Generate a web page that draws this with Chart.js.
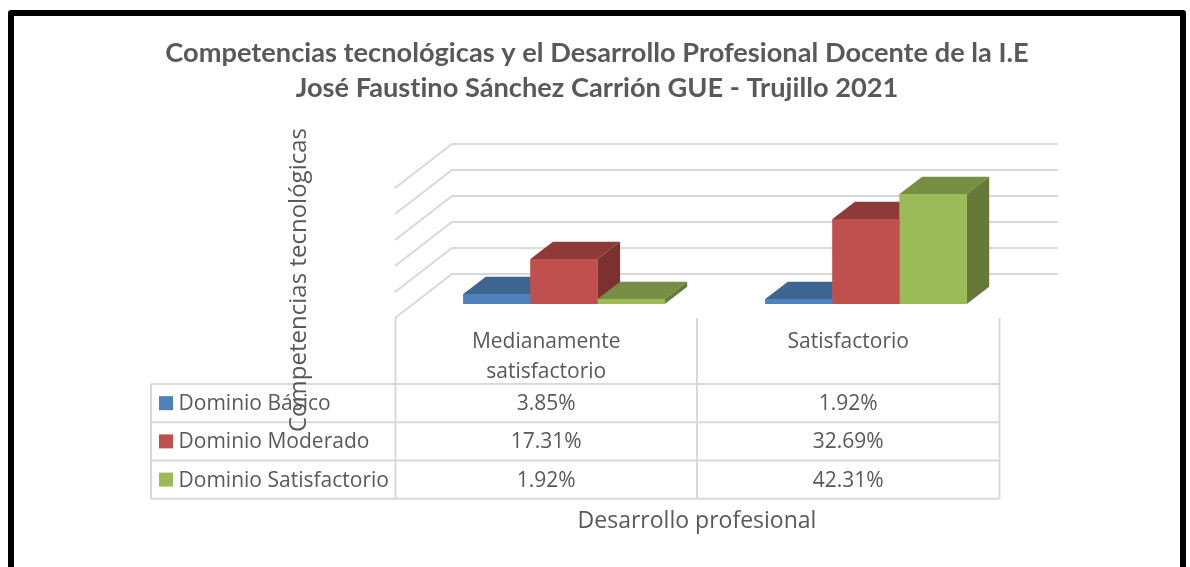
<!DOCTYPE html>
<html lang="es">
<head>
<meta charset="utf-8">
<title>Competencias tecnológicas</title>
<script src="https://cdn.jsdelivr.net/npm/chart.js@4"></script>
<style>
html,body{margin:0;padding:0;background:#fff;overflow:hidden;width:1190px;height:567px}
#frame{position:absolute;left:8px;top:10px;width:1166px;height:640px;border:6.5px solid #000;border-radius:3px}
#wrap{position:absolute;left:0;top:0;width:1190px;height:567px}
</style>
</head>
<body>
<div id="frame"></div>
<div id="wrap"><canvas id="c" width="1190" height="567"></canvas></div>
<script>
const titleLines = ['Competencias tecnológicas y el Desarrollo Profesional Docente de la I.E', 'José Faustino Sánchez Carrión GUE - Trujillo 2021'];
const categories = ['Medianamente satisfactorio', 'Satisfactorio'];
const categoryLines = [['Medianamente', 'satisfactorio'], ['Satisfactorio']];
const seriesNames = ['Dominio Básico', 'Dominio Moderado', 'Dominio Satisfactorio'];
const dominioBasico = [3.85, 1.92];
const dominioModerado = [17.31, 32.69];
const dominioSatisfactorio = [1.92, 42.31];
const frontColors = ['#4F81BD', '#C0504D', '#9BBB59'];
const topColors = ['#3D6591', '#8F3A38', '#778F45'];
const sideColors = ['#345780', '#7D312F', '#657A3A'];
const yAxisTitle = 'Competencias tecnológicas';
const xAxisTitle = 'Desarrollo profesional';

const GRID = '#D9D9D9', TEXT = '#595959', LABEL_FONT = '21px "Open Sans"';
const BAR_DX = 22.5, BAR_DY = 17.3;
const values = [dominioBasico, dominioModerado, dominioSatisfactorio];

function poly(ctx, pts, fill) {
  ctx.beginPath();
  pts.forEach((p, i) => i ? ctx.lineTo(p[0], p[1]) : ctx.moveTo(p[0], p[1]));
  ctx.closePath();
  ctx.fillStyle = fill;
  ctx.fill();
}
function seg(ctx, x1, y1, x2, y2) {
  ctx.beginPath(); ctx.moveTo(x1, y1); ctx.lineTo(x2, y2); ctx.stroke();
}

const scene3d = {
  id: 'scene3d',
  beforeDraw(chart) {
    chart.ctx.letterSpacing = '0.01px';
  },
  beforeDatasetsDraw(chart) {
    const { ctx, scales: { y } } = chart;
    ctx.save();
    ctx.strokeStyle = GRID;
    ctx.lineWidth = 2;
    y.ticks.forEach(t => {
      const py = y.getPixelForValue(t.value);
      ctx.beginPath();
      ctx.moveTo(395, py + 14);
      ctx.lineTo(452, py - 30);
      ctx.lineTo(1058, py - 30);
      ctx.stroke();
    });
    seriesNames.forEach((name, i) => {
      chart.getDatasetMeta(i).data.forEach(bar => {
        const p = bar.getProps(['x', 'y', 'base', 'width'], true);
        const l = p.x - p.width / 2, r = p.x + p.width / 2;
        poly(ctx, [[l, p.y], [r, p.y], [r + BAR_DX, p.y - BAR_DY], [l + BAR_DX, p.y - BAR_DY]], topColors[i]);
        poly(ctx, [[r, p.y], [r + BAR_DX, p.y - BAR_DY], [r + BAR_DX, p.base - BAR_DY], [r, p.base]], sideColors[i]);
        bar.draw(ctx);
      });
    });
    ctx.restore();
  },
  afterDraw(chart) {
    const { ctx } = chart;
    const cols = [151, 395.5, 697, 999.5];
    const rows = [384, 422.3, 460.5, 498.7];
    ctx.save();
    ctx.strokeStyle = GRID;
    ctx.lineWidth = 2;
    cols.slice(1).forEach(x => seg(ctx, x, 318, x, rows[3]));
    seg(ctx, cols[0], rows[0], cols[0], rows[3]);
    rows.forEach(y => seg(ctx, cols[0], y, cols[3], y));

    ctx.fillStyle = TEXT;
    ctx.font = LABEL_FONT;
    ctx.textBaseline = 'middle';
    ctx.textAlign = 'center';
    const centers = [546.2, 848.2];
    categoryLines.forEach((lines, c) => lines.forEach((s, k) => ctx.fillText(s, centers[c], 342 + k * 30)));
    seriesNames.forEach((name, s) => {
      const cy = (rows[s] + rows[s + 1]) / 2;
      ctx.fillStyle = frontColors[s];
      ctx.fillRect(159, cy - 7, 14, 14);
      ctx.fillStyle = TEXT;
      ctx.textAlign = 'left';
      ctx.fillText(name, 178.5, cy + 1);
      ctx.textAlign = 'center';
      values[s].forEach((v, c) => ctx.fillText(v.toFixed(2) + '%', centers[c], cy + 1));
    });

    ctx.font = '23px "Open Sans"';
    ctx.fillText(xAxisTitle, 697, 521);
    ctx.font = '24px "Open Sans"';
    ctx.translate(299, 280);
    ctx.rotate(-Math.PI / 2);
    ctx.fillText(yAxisTitle, 0, 0);
    ctx.restore();
  }
};

new Chart(document.getElementById('c'), {
  type: 'bar',
  data: {
    labels: categories,
    datasets: seriesNames.map((name, s) => ({
      label: name,
      data: values[s],
      backgroundColor: frontColors[s],
      categoryPercentage: 0.667,
      barPercentage: 1
    }))
  },
  plugins: [scene3d],
  options: {
    responsive: false,
    animation: false,
    layout: { padding: { left: 4, right: 0, top: 0, bottom: 0 } },
    plugins: {
      legend: { display: false },
      tooltip: { enabled: false },
      title: {
        display: true,
        text: titleLines,
        color: TEXT,
        font: { family: 'Lato', size: 27.2, weight: 'bold', lineHeight: 1.29 },
        padding: { top: 36, bottom: 67.8 }
      }
    },
    scales: {
      x: {
        grid: { display: false }, border: { display: false },
        ticks: { display: false },
        afterFit(s) { s.height = 263; }
      },
      y: {
        min: 0, max: 50,
        ticks: { display: false, stepSize: 10 },
        grid: { display: false }, border: { display: false },
        afterFit(s) { s.width = 409; }
      },
      pad: {
        position: 'right', min: 0, max: 50,
        ticks: { display: false },
        grid: { display: false }, border: { display: false },
        afterFit(s) { s.width = 173; }
      }
    }
  }
});
</script>
</body>
</html>
